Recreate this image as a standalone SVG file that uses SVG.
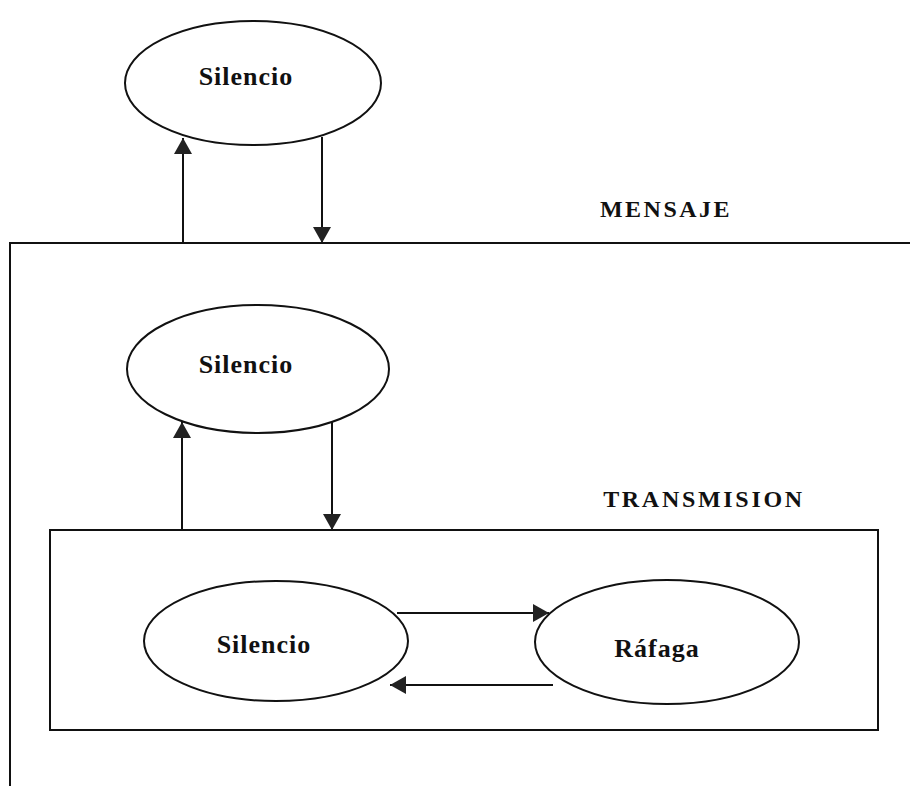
<svg xmlns="http://www.w3.org/2000/svg" width="910" height="786" viewBox="0 0 910 786">
<style>
.st{fill:#fff;stroke:#111;stroke-width:2}
.bx{fill:none;stroke:#111;stroke-width:2}
.lb{font-family:"Liberation Serif","Times New Roman",serif;font-weight:bold;fill:#111;text-anchor:middle}
.c{stroke:#111;stroke-width:2;fill:none}
</style>
<defs>
<marker id="ah" viewBox="0 0 16 18" markerWidth="16" markerHeight="18" refX="16" refY="9" orient="auto" markerUnits="userSpaceOnUse">
<path d="M0,0 L16,9 L0,18 Z" fill="#222"/>
</marker>
</defs>
<rect width="910" height="786" fill="#fff"/>
<g id="mensaje">
<path class="bx" d="M910,243 H10 V786"/>
<text class="lb" x="666" y="217" font-size="24" letter-spacing="2.5">MENSAJE</text>
</g>
<g id="transmision">
<rect class="bx" x="50" y="530" width="828" height="200"/>
<text class="lb" x="704" y="507" font-size="24" letter-spacing="2.7">TRANSMISION</text>
</g>
<g id="silencio-mensaje">
<ellipse class="st" cx="253" cy="83" rx="128" ry="62"/>
<text class="lb" x="246" y="85" font-size="26" letter-spacing="1">Silencio</text>
</g>
<g id="silencio-transmision">
<ellipse class="st" cx="258" cy="369" rx="131" ry="64"/>
<text class="lb" x="246" y="373" font-size="26" letter-spacing="1">Silencio</text>
</g>
<g id="silencio-rafaga-level">
<ellipse class="st" cx="276" cy="641" rx="132" ry="60"/>
<text class="lb" x="264" y="653" font-size="26" letter-spacing="1">Silencio</text>
</g>
<g id="rafaga">
<ellipse class="st" cx="667" cy="642" rx="132" ry="62"/>
<text class="lb" x="657" y="657" font-size="26" letter-spacing="1">Ráfaga</text>
</g>
<g id="connectors">
<line class="c" x1="183" y1="243" x2="183" y2="138" marker-end="url(#ah)"/>
<line class="c" x1="322" y1="137" x2="322" y2="243" marker-end="url(#ah)"/>
<line class="c" x1="182" y1="530" x2="182" y2="422" marker-end="url(#ah)"/>
<line class="c" x1="332" y1="422" x2="332" y2="530" marker-end="url(#ah)"/>
<line class="c" x1="397" y1="613" x2="549" y2="613" marker-end="url(#ah)"/>
<line class="c" x1="553" y1="685" x2="390" y2="685" marker-end="url(#ah)"/>
</g>
</svg>
